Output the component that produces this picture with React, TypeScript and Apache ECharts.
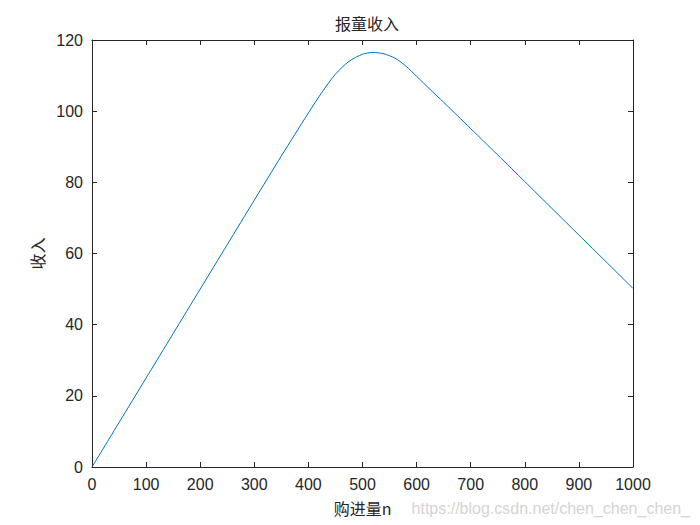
import React, { useEffect, useRef } from "react";
import * as echarts from "echarts";

const titleText = "报童收入";
const xName = "购进量n";
const yName = "收入";
const watermark = "https://blog.csdn.net/chen_chen_chen_";

const nValues = [0, 50, 100, 150, 200, 250, 300, 350, 375, 400, 425, 450, 475, 500, 520, 540, 560, 580, 600, 625, 650, 675, 700, 725, 750, 800, 850, 900, 950, 1000];
const revenue = [0, 12.5, 25, 37.5, 50, 62.5, 75, 87.4, 93.5, 99.5, 105.3, 110.4, 114.0, 116.0, 116.5, 116.1, 114.9, 112.7, 109.8, 106.1, 102.5, 98.8, 95.1, 91.4, 87.7, 80.2, 72.7, 65.2, 57.7, 50.2];

const axisColor = "#262626";
const lineColor = "#0072BD";
const numFont = "'Liberation Sans', Arial, sans-serif";
const cjkFont = "'Noto Sans CJK SC', sans-serif";

export default function App() {
  const ref = useRef<HTMLDivElement>(null);
  useEffect(() => {
    if (!ref.current) return;
    const chart = echarts.init(ref.current, undefined, { renderer: "svg" });
    const data = nValues.map((n, i) => [n, revenue[i]]);
    const tickBase = {
      show: true,
      inside: true,
      length: 5,
      lineStyle: { color: axisColor, width: 1 },
    };
    chart.setOption({
      animation: false,
      backgroundColor: "#ffffff",
      title: {
        text: titleText,
        left: 362,
        top: 10,
        textAlign: "center",
        textStyle: { fontFamily: cjkFont, fontSize: 16, fontWeight: "normal", color: axisColor },
      },
      grid: { left: 92, right: 67, top: 40, bottom: 58, containLabel: false },
      xAxis: [
        {
          type: "value",
          min: 0,
          max: 1000,
          interval: 100,
          position: "bottom",
          name: xName,
          nameLocation: "middle",
          nameGap: 33,
          nameTextStyle: { fontFamily: cjkFont, fontSize: 16, color: axisColor },
          axisLine: { show: true, onZero: false, lineStyle: { color: axisColor, width: 1 } },
          axisTick: tickBase,
          axisLabel: {
            fontFamily: numFont,
            fontSize: 16,
            color: axisColor,
            margin: 9,
            formatter: (v: number) => String(v),
          },
          splitLine: { show: false },
        },
        {
          type: "value",
          min: 0,
          max: 1000,
          interval: 100,
          position: "top",
          axisLine: { show: true, onZero: false, lineStyle: { color: axisColor, width: 1 } },
          axisTick: tickBase,
          axisLabel: { show: false },
          splitLine: { show: false },
        },
      ],
      yAxis: [
        {
          type: "value",
          min: 0,
          max: 120,
          interval: 20,
          position: "left",
          name: yName,
          nameLocation: "middle",
          nameGap: 42,
          nameTextStyle: { fontFamily: cjkFont, fontSize: 16, color: axisColor },
          axisLine: { show: true, onZero: false, lineStyle: { color: axisColor, width: 1 } },
          axisTick: tickBase,
          axisLabel: { fontFamily: numFont, fontSize: 16, color: axisColor, margin: 9 },
          splitLine: { show: false },
        },
        {
          type: "value",
          min: 0,
          max: 120,
          interval: 20,
          position: "right",
          axisLine: { show: true, onZero: false, lineStyle: { color: axisColor, width: 1 } },
          axisTick: tickBase,
          axisLabel: { show: false },
          splitLine: { show: false },
        },
      ],
      series: [
        {
          type: "line",
          data,
          smooth: 0.25,
          showSymbol: false,
          lineStyle: { color: lineColor, width: 1 },
          xAxisIndex: 0,
          yAxisIndex: 0,
        },
      ],
      graphic: [
        {
          type: "text",
          right: 10,
          top: 500,
          style: {
            text: watermark,
            fill: "#d4d4d4",
            fontFamily: numFont,
            fontSize: 16,
          },
        },
      ],
    });
    return () => chart.dispose();
  }, []);
  return <div ref={ref} style={{ width: 700, height: 525, position: "absolute", left: 0, top: 0 }} />;
}
